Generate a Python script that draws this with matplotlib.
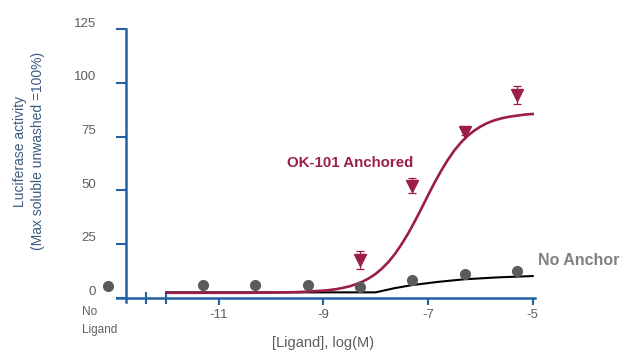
import matplotlib
matplotlib.use("Agg")
import matplotlib.pyplot as plt
import matplotlib.transforms as mtransforms

plt.rcParams['font.family'] = ['Liberation Sans', 'DejaVu Sans']

# measured points, x in log(M)
log_conc = [-11.3, -10.3, -9.3, -8.3, -7.3, -6.3, -5.3]
no_anchor_pts = [5.8, 5.8, 5.8, 5.0, 8.2, 10.8, 12.3]
anchored_conc = [-8.3, -7.3, -6.3, -5.3]
anchored_pts = [17.5, 52.0, 77.3, 94.4]
anchored_err = [4.4, 3.5, 1.5, 4.2]
no_ligand_x = -13.11
no_ligand_val = 5.4

# fitted curves
fit_x = [-12, -11.5, -11, -10.5, -10, -9.5, -9, -8.875, -8.75, -8.625, -8.5,
         -8.375, -8.25, -8.125, -8, -7.875, -7.75, -7.625, -7.5, -7.375, -7.25,
         -7.125, -7, -6.875, -6.75, -6.625, -6.5, -6.375, -6.25, -6.125, -6,
         -5.875, -5.75, -5.625, -5.5, -5.375, -5.25, -5.125, -5]
anchored_fit = [2.2, 2.2, 2.2, 2.2, 2.3, 2.5, 3.2, 3.5, 3.9, 4.5, 5.2,
                6.2, 7.4, 9.0, 11.0, 13.6, 16.7, 20.5, 25.0, 30.0, 35.6,
                41.5, 47.6, 53.5, 59.0, 64.0, 68.4, 72.1, 75.2, 77.6, 79.6,
                81.2, 82.4, 83.3, 84.0, 84.5, 84.9, 85.3, 85.5]
no_anchor_fit_x = [-12, -11, -10, -9, -8, -7.65, -7.3, -6.8, -6.3, -5.65, -5]
no_anchor_fit = [2.4, 2.4, 2.4, 2.4, 2.4, 4.3, 5.8, 7.3, 8.5, 9.4, 10.0]

yticks = [0, 25, 50, 75, 100, 125]
xticks = [-11, -9, -7, -5]
xtick_labels = ['-11', '-9', '-7', '-5']
break_marks = [-12.38, -12.0]

red = '#9b1d4b'
blue = '#2361a5'
gray_dot = '#5b5b5b'
txt_gray = '#5e5e5e'

fig = plt.figure(figsize=(6.24, 3.54), dpi=100)
ax = fig.add_axes([95/624, 1-310/354, 450/624, 290/354])
ax.set_xlim(-13.361, -4.765)
ax.set_ylim(-5.82, 129.3)

ax.plot(no_anchor_fit_x, no_anchor_fit, color='black', lw=1.5, zorder=2)
ax.plot(fit_x, anchored_fit, color=red, lw=1.9, zorder=3)
ax.plot(log_conc, no_anchor_pts, 'o', color=gray_dot, ms=7, zorder=4)
ax.plot([no_ligand_x], [no_ligand_val], 'o', color=gray_dot, ms=7, zorder=4, clip_on=False)
ax.errorbar(anchored_conc, anchored_pts, yerr=anchored_err, fmt='v', color=red,
            ms=8, elinewidth=0.9, capsize=3, capthick=0.9, zorder=5)

for s in ['top', 'right']:
    ax.spines[s].set_visible(False)
ax.spines['left'].set_position(('data', -12.76))
ax.spines['left'].set_bounds(-2.2, 125)
ax.spines['bottom'].set_position(('data', 0))
ax.spines['bottom'].set_bounds(-12.94, -4.95)
for s in ['left', 'bottom']:
    ax.spines[s].set_color(blue)
    ax.spines[s].set_linewidth(1.8)

ax.set_xticks(xticks)
ax.set_xticklabels(xtick_labels)
ax.set_xticks(break_marks, minor=True)
ax.set_yticks(yticks)
ax.tick_params(axis='x', which='major', direction='out', length=5, width=1.5,
               color=blue, labelcolor=txt_gray, labelsize=9.5, pad=3)
ax.tick_params(axis='x', which='minor', direction='inout', length=9, width=1.5, color=blue)
ax.tick_params(axis='y', direction='out', length=7, width=1.5, color=blue,
               labelcolor=txt_gray, labelsize=9.5, pad=15)
offset = mtransforms.ScaledTranslation(0, 5/72, fig.dpi_scale_trans)
for lab in ax.get_yticklabels():
    lab.set_transform(lab.get_transform() + offset)

ax.text(-13.61, -4.0, 'No\nLigand', ha='left', va='top', fontsize=8.5,
        color=txt_gray, linespacing=1.7, clip_on=False)
ax.text(-9.0, -21.2, '[Ligand], log(M)', ha='center', va='center', fontsize=10.5,
        color=txt_gray, clip_on=False)
ax.text(-9.70, 62.9, 'OK-101 Anchored', ha='left', va='center', fontsize=10.8,
        fontweight='bold', color=red)
ax.text(-4.89, 17.2, 'No Anchor', ha='left', va='center', fontsize=11.5,
        fontweight='bold', color='#808080', clip_on=False)

fig.text(29/624, 1-151/354, 'Luciferase activity\n(Max soluble unwashed =100%)',
         rotation=90, ha='center', va='center', multialignment='center',
         fontsize=10, color='#3d5a80', linespacing=1.3)

fig.savefig('out.png', dpi=100)
